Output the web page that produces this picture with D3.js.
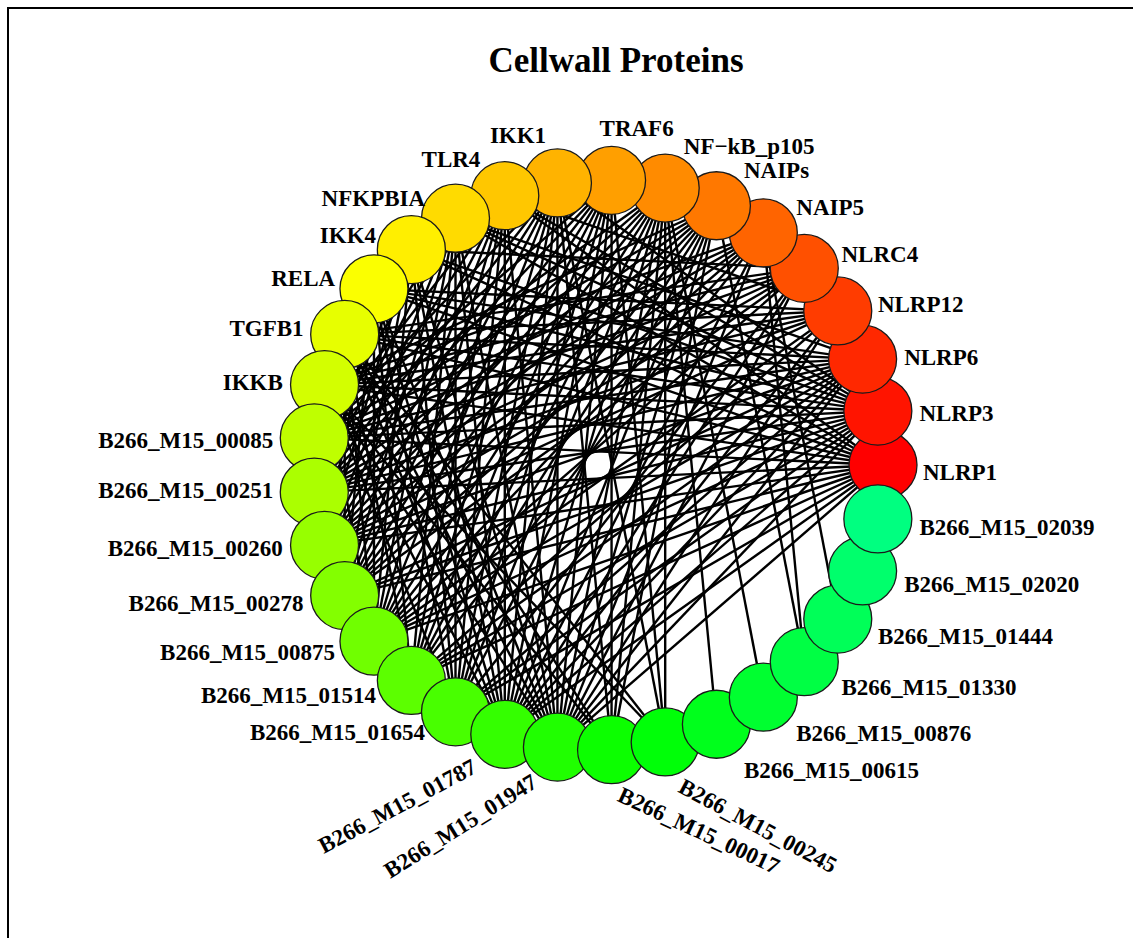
<!DOCTYPE html>
<html>
<head>
<meta charset="utf-8">
<script src="https://cdn.jsdelivr.net/npm/d3@7"></script>
<style>
  body { margin: 0; background: #fff; }
  svg { display: block; }
</style>
</head>
<body>
<svg id="chart" width="1133" height="938"></svg>
<script>
// host proteins, counterclockwise from the right
const hostProteins = ['NLRP1', 'NLRP3', 'NLRP6', 'NLRP12', 'NLRC4', 'NAIP5', 'NAIPs', 'NF\u2212kB_p105',
  'TRAF6', 'IKK1', 'TLR4', 'NFKPBIA', 'IKK4', 'RELA', 'TGFB1', 'IKKB'];

// cellwall proteins, continuing round the circle
const cellwallProteins = ['B266_M15_00085', 'B266_M15_00251', 'B266_M15_00260', 'B266_M15_00278',
  'B266_M15_00875', 'B266_M15_01514', 'B266_M15_01654', 'B266_M15_01787', 'B266_M15_01947',
  'B266_M15_00017', 'B266_M15_00245', 'B266_M15_00615', 'B266_M15_00876', 'B266_M15_01330',
  'B266_M15_01444', 'B266_M15_02020', 'B266_M15_02039'];

const NFKB = 'NF\u2212kB_p105';

// host partners of each cellwall protein (same order as cellwallProteins)
const partners = [
  ['NLRP1', 'NLRP3', 'NLRP6', 'NLRP12', 'NLRC4', 'NAIP5', 'NAIPs', NFKB, 'TRAF6', 'IKK1', 'TLR4', 'NFKPBIA', 'IKK4', 'RELA'],
  ['NLRP1', 'NLRP3', 'NLRP6', 'NLRP12', 'NLRC4', 'NAIP5', 'NAIPs', NFKB, 'TRAF6', 'IKK1', 'TLR4', 'NFKPBIA', 'IKK4', 'RELA', 'TGFB1'],
  ['NLRP1', 'NLRP3', 'NLRP6', 'NLRP12', 'NLRC4', 'NAIP5', 'NAIPs', NFKB, 'TRAF6', 'IKK1', 'TLR4', 'NFKPBIA', 'IKK4', 'RELA', 'TGFB1'],
  ['NLRP1', 'NLRP3', 'NLRP6', 'NLRC4', 'NAIP5', 'NAIPs', NFKB, 'TRAF6', 'IKK1', 'TLR4', 'NFKPBIA', 'IKK4', 'RELA', 'TGFB1'],
  ['NLRP1', 'NLRP3', 'NLRP6', 'NLRP12', 'NLRC4', 'NAIP5', 'NAIPs', NFKB, 'TRAF6', 'IKK1', 'TLR4', 'NFKPBIA', 'IKK4', 'RELA', 'TGFB1', 'IKKB'],
  ['NLRP1', 'NLRP3', 'NLRP6', 'NLRP12', 'NAIP5', 'NAIPs', NFKB, 'TRAF6', 'IKK1', 'TLR4', 'NFKPBIA', 'RELA', 'TGFB1'],
  ['NLRP1', 'NLRP3', 'NLRP6', 'NLRC4', 'NAIPs', NFKB, 'TRAF6', 'IKK1', 'TLR4', 'NFKPBIA', 'IKK4', 'RELA', 'IKKB'],
  ['NLRP1', 'NLRP3', 'NLRP6', 'NLRP12', 'NLRC4', 'NAIP5', 'NAIPs', NFKB, 'TRAF6', 'IKK1', 'TLR4', 'NFKPBIA', 'IKK4', 'RELA', 'TGFB1', 'IKKB'],
  ['NLRP1', 'NLRP3', 'NLRP6', 'NLRP12', 'NLRC4', 'NAIP5', 'NAIPs', NFKB, 'TRAF6', 'IKK1', 'TLR4', 'NFKPBIA', 'IKK4', 'RELA', 'TGFB1', 'IKKB'],
  ['NAIPs', NFKB, 'TRAF6', 'IKK1', 'TGFB1', 'IKKB'],
  [NFKB, 'TRAF6', 'IKK1', 'TGFB1', 'IKKB'],
  [NFKB],
  [NFKB],
  ['NAIPs', 'NAIP5'],
  ['NAIP5'],
  [],
  [],
];

// host-host links
const hostLinks = [
  ['IKKB', 'NLRP1'], ['IKKB', 'NLRP3'], ['IKKB', 'NLRP6'], ['IKKB', 'NLRP12'], ['IKKB', 'NLRC4'],
  ['IKKB', 'NAIP5'], ['IKKB', 'NAIPs'],
  ['TGFB1', 'NLRP1'], ['TGFB1', 'NLRP3'], ['TGFB1', 'NLRP6'], ['TGFB1', 'NLRP12'], ['TGFB1', 'NLRC4'],
  ['RELA', 'NLRP1'], ['RELA', 'NLRP3'], ['RELA', 'NLRP6'], ['RELA', 'NLRP12'],
  ['IKK4', 'NLRP1'], ['IKK4', 'NLRP3'], ['IKK4', 'NLRC4'],
  ['NFKPBIA', 'NLRP1'], ['NFKPBIA', 'NLRP3'], ['NFKPBIA', 'NLRP6'],
  ['TLR4', 'NLRP1'], ['TLR4', 'NLRP3'], ['TLR4', 'NLRP12'],
  ['IKK1', 'NLRP3'],
];

// labels that are drawn tilted (degrees)
const tiltedLabels = { 'B266_M15_01787': -28, 'B266_M15_01947': -32, 'B266_M15_00017': 25, 'B266_M15_00245': 28 };

const svg = d3.select('#chart');
const cx = 598, cy = 465, ring = 285, nodeR = 34;

const names = hostProteins.concat(cellwallProteins);
const angle = d3.scaleLinear().domain([0, names.length]).range([0, 2 * Math.PI]);
const hue = d3.scaleLinear().domain([0, names.length - 1]).range([0, 150]);

const nodes = names.map((name, i) => {
  const a = angle(i);
  return { name, i, c: Math.cos(a), s: Math.sin(a), x: cx + ring * Math.cos(a), y: cy - ring * Math.sin(a) };
});
const byName = new Map(nodes.map(d => [d.name, d]));

const links = [];
cellwallProteins.forEach((p, k) => partners[k].forEach(h => links.push([byName.get(p), byName.get(h)])));
hostLinks.forEach(([a, b]) => links.push([byName.get(a), byName.get(b)]));

// frame
svg.append('path')
  .attr('d', 'M8,940 L8,8 L1135,8')
  .attr('fill', 'none')
  .attr('stroke', '#000')
  .attr('stroke-width', 2);

svg.append('text')
  .attr('x', 616)
  .attr('y', 72)
  .attr('text-anchor', 'middle')
  .style('font', 'bold 35px "Liberation Serif", "Times New Roman", serif')
  .text('Cellwall Proteins');

svg.append('g')
  .selectAll('line')
  .data(links)
  .join('line')
  .attr('x1', d => d[0].x)
  .attr('y1', d => d[0].y)
  .attr('x2', d => d[1].x)
  .attr('y2', d => d[1].y)
  .attr('stroke', '#000')
  .attr('stroke-width', 2.4);

svg.append('g')
  .selectAll('circle')
  .data(nodes)
  .join('circle')
  .attr('cx', d => d.x)
  .attr('cy', d => d.y)
  .attr('r', nodeR)
  .attr('fill', d => d3.hsl(hue(d.i), 1, 0.5).formatHex())
  .attr('stroke', '#1a1a1a')
  .attr('stroke-width', 1.3);

const label = svg.append('g')
  .style('font', 'bold 23px "Liberation Serif", "Times New Roman", serif')
  .selectAll('text')
  .data(nodes)
  .join('text')
  .attr('dy', '0.33em')
  .attr('text-anchor', d => d.c >= 0 ? 'start' : 'end')
  .text(d => d.name);

label.each(function (d) {
  const t = d3.select(this);
  const as = Math.abs(d.s);
  const tilt = tiltedLabels[d.name];
  if (tilt !== undefined) {
    const px = d.x + (nodeR + 6) * d.c + (d.c < 0 ? -17 : 6);
    const py = d.y - (nodeR + 6) * d.s + (d.c < 0 ? -7 : 4);
    t.attr('transform', `translate(${px},${py}) rotate(${tilt})`);
    return;
  }
  if (Math.abs(d.c) < 0.1) {
    // label sitting right over the top node
    t.attr('x', d.x - 12).attr('y', d.y - nodeR - 18);
    return;
  }
  let dist, shift;
  if (d.c > 0) {
    dist = 310 + Math.max(0, as - 0.6) * 70;
    shift = d.s >= 0 ? 7.5 : 4;
  } else {
    dist = 310 + Math.max(0, as - 0.85) * 200;
    shift = d.s > 0 ? 5 : -4;
  }
  const py = cy - d.s * dist + shift;
  const px = d.x + (nodeR + 6) * d.c + Math.sign(d.c) * 12 * as * Math.min(1, Math.abs(d.c) / 0.3);
  t.attr('x', px).attr('y', py);
});
</script>
</body>
</html>
